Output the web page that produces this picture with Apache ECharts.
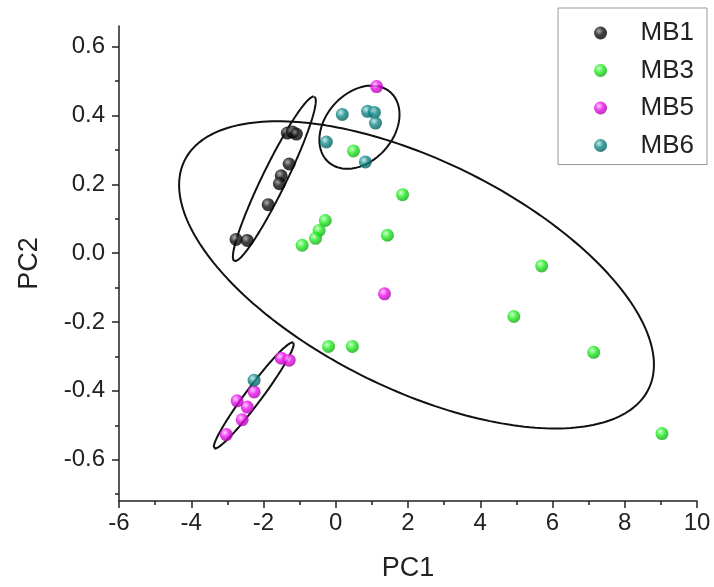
<!DOCTYPE html>
<html>
<head>
<meta charset="utf-8">
<title>PCA scores</title>
<script src="https://cdn.jsdelivr.net/npm/echarts@6/dist/echarts.min.js"></script>
<style>
  html, body { margin: 0; padding: 0; background: #fff; }
  #chart { width: 714px; height: 587px; }
</style>
</head>
<body>
<div id="chart"></div>
<script>
// Score values (PC1, PC2) for each sample group
const mb1 = [[-1.34, 0.349], [-1.20, 0.352], [-1.09, 0.346], [-1.29, 0.259], [-1.51, 0.225],
             [-1.56, 0.202], [-1.87, 0.141], [-2.76, 0.040], [-2.45, 0.037]];
const mb3 = [[0.49, 0.297], [1.85, 0.170], [-0.29, 0.095], [-0.46, 0.066], [-0.56, 0.043],
             [-0.93, 0.023], [1.43, 0.052], [5.70, -0.037], [4.93, -0.184], [7.14, -0.288],
             [9.03, -0.524], [-0.20, -0.271], [0.46, -0.271]];
const mb5 = [[1.13, 0.484], [1.35, -0.118], [-1.51, -0.305], [-1.29, -0.311], [-2.26, -0.403],
             [-2.45, -0.447], [-2.73, -0.429], [-2.59, -0.484], [-3.03, -0.527]];
const mb6 = [[0.18, 0.403], [0.88, 0.412], [1.07, 0.409], [1.10, 0.378], [-0.26, 0.323],
             [0.82, 0.265], [-2.26, -0.369]];

// Confidence ellipses: [centre, first conjugate semi-axis, second conjugate semi-axis]
const ellipseMB1 = [[-1.70, 0.216], [1.109, 0.239], [0.300, -0.015]];
const ellipseMB3 = [[2.236, -0.063], [6.572, -0.261], [0.0, 0.362]];
const ellipseMB5 = [[-2.27, -0.4135], [1.095, 0.154], [0.179, -0.014]];
const ellipseMB6 = [[0.656, 0.366], [1.109, 0.037], [0.0, 0.115]];

// Axis ticks
const xTicks = [-6, -4, -2, 0, 2, 4, 6, 8, 10];
const yTicks = [-0.6, -0.4, -0.2, 0.0, 0.2, 0.4, 0.6];
const yMinorTicks = [-0.7, -0.5, -0.3, -0.1, 0.1, 0.3, 0.5];

const groupNames = ['MB1', 'MB3', 'MB5', 'MB6'];
const groupData = [mb1, mb3, mb5, mb6];
const groupColors = [
  ['#9a9a9a', '#111111', '#000000'],
  ['#c8ffc8', '#22ee22', '#10a010'],
  ['#ffc8ff', '#ee11ee', '#a000a0'],
  ['#bfe6e6', '#128a8a', '#035656']
];
const ellipses = [ellipseMB1, ellipseMB3, ellipseMB5, ellipseMB6];

const FONT = '"Liberation Sans", Arial, sans-serif';

function ellipsePath(e) {
  const [c, u, v] = e;
  const pts = [];
  const n = 240;
  for (let i = 0; i <= n; i++) {
    const t = (i / n) * Math.PI * 2;
    pts.push([c[0] + Math.cos(t) * u[0] + Math.sin(t) * v[0],
              c[1] + Math.cos(t) * u[1] + Math.sin(t) * v[1]]);
  }
  return pts;
}

function ball(cols) {
  return {
    type: 'radial', x: 0.38, y: 0.35, r: 0.7,
    colorStops: [
      { offset: 0, color: cols[0] },
      { offset: 0.45, color: cols[1] },
      { offset: 1, color: cols[2] }
    ]
  };
}

const series = [];
ellipses.forEach((e, i) => {
  series.push({
    name: groupNames[i] + ' ellipse',
    type: 'line',
    data: ellipsePath(e),
    showSymbol: false,
    symbol: 'none',
    smooth: false,
    silent: true,
    z: 2,
    lineStyle: { color: '#111', width: 2 }
  });
});
groupData.forEach((d, i) => {
  series.push({
    name: groupNames[i],
    type: 'scatter',
    data: d,
    symbol: 'circle',
    symbolSize: 13,
    z: 5,
    itemStyle: { color: ball(groupColors[i]) }
  });
});

const chart = echarts.init(document.getElementById('chart'), null, { renderer: 'canvas' });
chart.setOption({
  animation: false,
  backgroundColor: '#fff',
  textStyle: { fontFamily: FONT },
  grid: { left: 119, right: 17, top: 26, bottom: 82, containLabel: false },
  legend: {
    data: groupNames,
    orient: 'vertical',
    align: 'left',
    right: 7,
    top: 8,
    backgroundColor: '#fff',
    borderColor: '#999',
    borderWidth: 1,
    borderRadius: 0,
    padding: [12, 13, 6, 36],
    itemWidth: 70,
    itemHeight: 13,
    itemGap: 11.5,
    icon: 'circle',
    textStyle: { fontFamily: FONT, fontSize: 26, color: '#222' }
  },
  xAxis: {
    type: 'value',
    min: -6,
    max: 10,
    interval: 2,
    name: 'PC1',
    nameLocation: 'middle',
    nameGap: 54,
    nameTextStyle: { fontFamily: FONT, fontSize: 27, color: '#222' },
    axisLine: { show: true, onZero: false, lineStyle: { color: '#222', width: 1.5 } },
    axisTick: { show: true, inside: false, length: 7, lineStyle: { color: '#222', width: 1.5 } },
    minorTick: { show: true, splitNumber: 2, length: 4, lineStyle: { color: '#222', width: 1.5 } },
    axisLabel: {
      customValues: xTicks,
      margin: 10, fontFamily: FONT, fontSize: 24, color: '#222',
      formatter: v => String(v)
    },
    splitLine: { show: false }
  },
  yAxis: [
    {
      type: 'value',
      min: -0.72,
      max: 0.66,
      name: 'PC2',
      nameLocation: 'middle',
      nameRotate: 90,
      nameGap: 76,
      nameTextStyle: { fontFamily: FONT, fontSize: 27, color: '#222' },
      axisLine: { show: true, onZero: false, lineStyle: { color: '#222', width: 1.5 } },
      axisTick: { show: true, inside: false, length: 7, customValues: yTicks,
                  lineStyle: { color: '#222', width: 1.5 } },
      axisLabel: {
        customValues: yTicks,
        margin: 14, fontFamily: FONT, fontSize: 24, color: '#222',
        formatter: v => v.toFixed(1)
      },
      splitLine: { show: false }
    },
    {
      type: 'value',
      min: -0.72,
      max: 0.66,
      position: 'left',
      axisLine: { show: false, onZero: false },
      axisTick: { show: true, inside: false, length: 4, customValues: yMinorTicks,
                  lineStyle: { color: '#222', width: 1.5 } },
      axisLabel: { show: false },
      splitLine: { show: false }
    }
  ],
  series: series
});
</script>
</body>
</html>
